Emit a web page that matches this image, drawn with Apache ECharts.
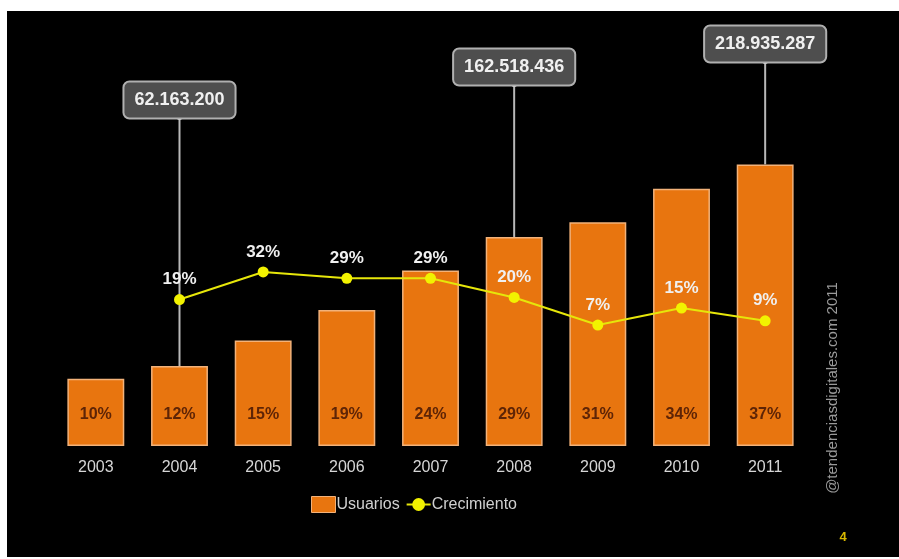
<!DOCTYPE html>
<html>
<head>
<meta charset="utf-8">
<title>Usuarios de Internet 2003-2011</title>
<script src="https://cdn.jsdelivr.net/npm/echarts@6/dist/echarts.min.js"></script>
<style>
  html, body { margin: 0; padding: 0; background: #ffffff; }
  #chart { width: 899px; height: 559px; }
</style>
</head>
<body>
<div id="chart"></div>
<script>
// Años
const anios = ['2003', '2004', '2005', '2006', '2007', '2008', '2009', '2010', '2011'];
// Usuarios de internet (personas)
const usuarios = [52200000, 62163200, 82000000, 105800000, 136500000, 162518436, 173900000, 200000000, 218935287];
// Penetración (% de la población), rotulada dentro de cada barra
const penetracion = [10, 12, 15, 19, 24, 29, 31, 34, 37];
// Crecimiento anual (%), sin dato para 2003
const crecimiento = [null, 19, 32, 29, 29, 20, 7, 15, 9];
// Años con cifra destacada en recuadro
const destacados = ['2004', '2008', '2011'];

// Altura (px) del centro de cada recuadro destacado
const alturaRecuadro = { '2004': 100, '2008': 67, '2011': 44 };

const fmtMiles = v => String(v).replace(/\B(?=(\d{3})+(?!\d))/g, '.');

const datosDestacados = destacados.map(a => {
  const i = anios.indexOf(a);
  return [i, usuarios[i]];
});

const chart = echarts.init(document.getElementById('chart'));

chart.setOption({
  backgroundColor: '#ffffff',
  animation: false,
  textStyle: { fontFamily: 'Liberation Sans, Arial, sans-serif' },
  graphic: [
    { type: 'rect', z: -10, silent: true,
      shape: { x: 7, y: 11, width: 892, height: 546 },
      style: { fill: '#000000' } },
    { type: 'text', z: 10, silent: true, x: 833, y: 388, rotation: Math.PI / 2,
      style: { text: '@tendenciasdigitales.com 2011', fill: '#9a9a9a',
               font: '15px Liberation Sans, Arial, sans-serif',
               align: 'center', verticalAlign: 'middle' } },
    { type: 'text', z: 10, silent: true, x: 843, y: 537,
      style: { text: '4', fill: '#d8b800',
               font: 'bold 13px Liberation Sans, Arial, sans-serif',
               align: 'center', verticalAlign: 'middle' } }
  ],
  grid: { left: 54, right: 92, top: 64, bottom: 113 },
  legend: {
    left: 306, top: 491,
    itemGap: 6, itemWidth: 24, itemHeight: 16,
    textStyle: { color: '#d0d0d0', fontSize: 16, padding: [0, 0, 0, -4] },
    data: [
      { name: 'Usuarios', icon: 'rect', itemStyle: { color: '#E8750F', borderColor: '#f2b27a', borderWidth: 1 } },
      { name: 'Crecimiento' }
    ]
  },
  xAxis: {
    type: 'category',
    data: anios,
    axisLine: { show: false },
    axisTick: { show: false },
    axisLabel: { color: '#d6d6d6', fontSize: 16, margin: 14 }
  },
  yAxis: [
    { type: 'value', min: 0, max: 297000000, show: false, splitLine: { show: false } },
    { type: 'value', min: -50, max: 130, show: false, splitLine: { show: false } }
  ],
  series: [
    {
      name: 'Usuarios',
      type: 'bar',
      data: usuarios,
      barWidth: '68%',
      itemStyle: { color: '#E8750F', borderColor: '#f2b27a', borderWidth: 1.5 },
      label: {
        show: true,
        position: 'insideBottom',
        distance: 23,
        color: '#5e2406',
        fontSize: 16,
        fontWeight: 'bold',
        formatter: p => penetracion[p.dataIndex] + '%'
      },
      z: 2
    },
    {
      name: 'Destacados',
      type: 'custom',
      data: datosDestacados,
      z: 3,
      clip: false,
      renderItem: (params, api) => {
        const idx = api.value(0);
        const tope = api.coord([idx, api.value(1)]);
        const yc = alturaRecuadro[anios[idx]];
        const yBase = yc + 18;
        return {
          type: 'group',
          children: [
            { type: 'line',
              shape: { x1: tope[0], y1: yBase, x2: tope[0], y2: tope[1] },
              style: { stroke: '#b8b8b8', lineWidth: 2 } },
            { type: 'circle',
              shape: { cx: tope[0], cy: yBase - 1, r: 3 },
              style: { fill: '#e6e6e6' } },
            { type: 'text',
              x: tope[0], y: yc,
              style: {
                text: fmtMiles(api.value(1)),
                fill: '#f0f0f0',
                font: 'bold 18px Liberation Sans, Arial, sans-serif',
                align: 'center', verticalAlign: 'middle',
                backgroundColor: '#4e4e4e',
                borderColor: '#b0b0b0',
                borderWidth: 2,
                borderRadius: 5,
                padding: [9, 10, 8, 10]
              } }
          ]
        };
      }
    },
    {
      name: 'Crecimiento',
      type: 'line',
      yAxisIndex: 1,
      data: crecimiento,
      z: 4,
      symbol: 'circle',
      symbolSize: 11,
      lineStyle: { color: '#e6e60a', width: 2 },
      itemStyle: { color: '#f2f200' },
      label: {
        show: true,
        position: 'top',
        distance: 6,
        color: '#f0f0f0',
        fontSize: 17,
        fontWeight: 'bold',
        formatter: p => p.value + '%'
      }
    }
  ]
});
</script>
</body>
</html>
